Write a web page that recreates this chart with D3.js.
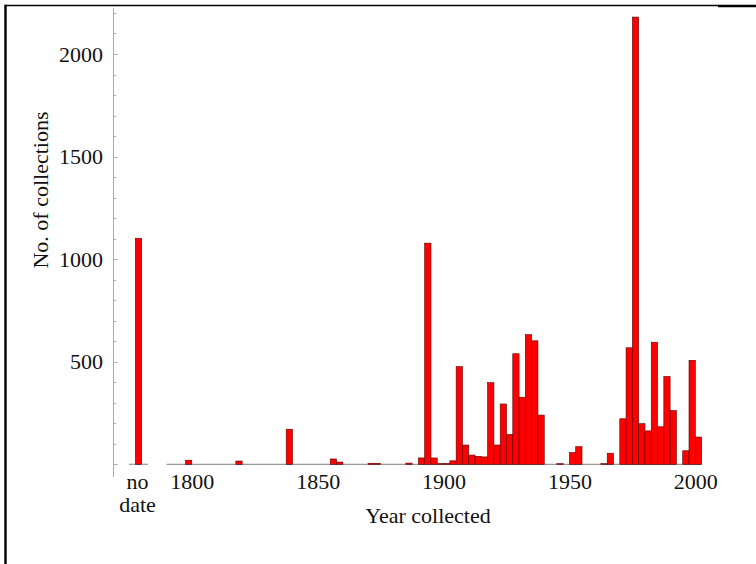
<!DOCTYPE html>
<html>
<head>
<meta charset="utf-8">
<script src="https://cdn.jsdelivr.net/npm/d3@7"></script>
<style>
  html, body { margin: 0; padding: 0; background: #fff; }
  svg { display: block; }
  text { font-family: "Liberation Serif", "Times New Roman", serif; fill: #111; }
</style>
</head>
<body>
<div id="chart"></div>
<script>
// ---- data ----
const binWidth = 2.5; // years per bin
const binStarts = [1797.5, 1817.5, 1837.5, 1855, 1857.5, 1870, 1872.5, 1885, 1890, 1892.5,
  1895, 1897.5, 1900, 1902.5, 1905, 1907.5, 1910, 1912.5, 1915, 1917.5,
  1920, 1922.5, 1925, 1927.5, 1930, 1932.5, 1935, 1937.5, 1945, 1950,
  1952.5, 1962.5, 1965, 1970, 1972.5, 1975, 1977.5, 1980, 1982.5, 1985,
  1987.5, 1990, 1995, 1997.5, 2000];
const counts = [20, 16, 171, 26, 11, 5, 5, 6, 31, 1078,
  31, 4, 4, 17, 476, 94, 45, 39, 36, 398,
  94, 294, 146, 539, 327, 632, 602, 240, 3, 57,
  86, 3, 54, 222, 568, 2180, 198, 163, 595, 183,
  428, 262, 66, 507, 133];
const noDateLabel = ["no", "date"];
const noDateCount = 1102;
const xTickValues = [1800, 1850, 1900, 1950, 2000];
const yTickLabels = [500, 1000, 1500, 2000];
const yMinorTicks = d3.range(0, 2201, 100);
const xTitle = "Year collected";
const yTitle = "No. of collections";

// ---- layout ----
const W = 756, H = 564;
const svg = d3.select("#chart").append("svg").attr("width", W).attr("height", H);

const x = d3.scaleLinear().domain([1800, 2000]).range([191.8, 695.3]);
const y = d3.scaleLinear().domain([0, 2000]).range([464.3, 54]);
const xNo = d3.scalePoint().domain(["no date"]).range([138.5, 138.5]);
const bw = x(1800 + binWidth) - x(1800);

// frame
svg.append("line").attr("x1", 5).attr("x2", 718).attr("y1", 5.5).attr("y2", 5.5)
  .attr("stroke", "#000").attr("stroke-width", 1.3);
svg.append("line").attr("x1", 718).attr("x2", 756).attr("y1", 6).attr("y2", 6)
  .attr("stroke", "#000").attr("stroke-width", 2.6);
svg.append("line").attr("x1", 5.5).attr("x2", 5.5).attr("y1", 4.8).attr("y2", H)
  .attr("stroke", "#000").attr("stroke-width", 2.4);

// y axis line + ticks
const axisX = 113.5;
svg.append("line").attr("x1", axisX).attr("x2", axisX)
  .attr("y1", y(2225)).attr("y2", 477)
  .attr("stroke", "#aaa").attr("stroke-width", 1);
svg.append("g").selectAll("line").data(yMinorTicks).join("line")
  .attr("x1", axisX).attr("x2", d => axisX + (d % 500 === 0 ? 4 : 2.5))
  .attr("y1", d => Math.round(y(d)) + 0.5).attr("y2", d => Math.round(y(d)) + 0.5)
  .attr("stroke", "#aaa").attr("stroke-width", 1);

const yAxis = d3.axisLeft(y).tickValues(yTickLabels).tickSize(0).tickPadding(0).tickFormat(d3.format("d"));
const gy = svg.append("g").attr("transform", "translate(103,0)").call(yAxis);
gy.select(".domain").remove();
gy.selectAll("text").attr("font-size", 22).attr("font-family", "Liberation Serif").attr("fill", "#111");

// baselines
svg.append("line").attr("x1", 129).attr("x2", 148).attr("y1", y(0)).attr("y2", y(0))
  .attr("stroke", "#999").attr("stroke-width", 1.2);
svg.append("line").attr("x1", x(1790)).attr("x2", x(2002.5)).attr("y1", y(0)).attr("y2", y(0))
  .attr("stroke", "#999").attr("stroke-width", 1.2);

// bars
const bars = binStarts.map((s, i) => ({ s, v: counts[i] }));
svg.append("g").selectAll("rect").data(bars).join("rect")
  .attr("x", d => x(d.s))
  .attr("width", bw)
  .attr("y", d => y(d.v))
  .attr("height", d => y(0) - y(d.v))
  .attr("fill", "#ff0000")
  .attr("stroke", "#5a0000")
  .attr("stroke-width", 0.6);

svg.append("rect")
  .attr("x", xNo("no date") - bw / 2)
  .attr("width", bw)
  .attr("y", y(noDateCount))
  .attr("height", y(0) - y(noDateCount))
  .attr("fill", "#ff0000")
  .attr("stroke", "#5a0000")
  .attr("stroke-width", 0.6);

// x tick labels
const xAxis = d3.axisBottom(x).tickValues(xTickValues).tickSize(0).tickPadding(0).tickFormat(d3.format("d"));
const gx = svg.append("g").attr("transform", "translate(0,473)").call(xAxis);
gx.select(".domain").remove();
gx.selectAll("text").attr("font-size", 22).attr("font-family", "Liberation Serif").attr("fill", "#111")
  .attr("dy", "0.71em");

svg.append("g").selectAll("text").data(noDateLabel).join("text")
  .attr("x", 137.5).attr("y", (d, i) => 489 + i * 23)
  .attr("text-anchor", "middle").attr("font-size", 22)
  .text(d => d);

// titles
svg.append("text").attr("x", 428).attr("y", 523).attr("text-anchor", "middle")
  .attr("font-size", 22).text(xTitle);
svg.append("text").attr("transform", "translate(48,190) rotate(-90)")
  .attr("text-anchor", "middle").attr("font-size", 22).text(yTitle);
</script>
</body>
</html>
